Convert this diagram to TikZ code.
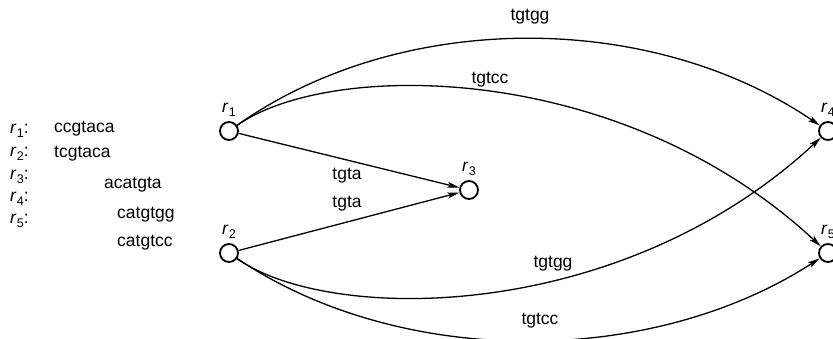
\documentclass[tikz,border=0pt]{standalone}
\usepackage{fontspec}
\setmainfont{Liberation Sans}
\usetikzlibrary{arrows.meta}
\newcommand\rsub[1]{\textit{r}\kern0.3pt\raisebox{-0.45ex}{\fontsize{12.5}{12.5}\selectfont #1}}
\begin{document}
\begin{tikzpicture}[x=1pt,y=-1pt,
  txt/.style={font=\fontsize{17.5}{20}\selectfont, inner sep=0pt},
  vtx/.style={circle,draw,line width=1.8pt,minimum size=18pt,inner sep=0pt},
  vlab/.style={txt,label distance=4pt},
  edge/.style={line width=1.3pt,-{Stealth[length=12pt,width=6pt,inset=2.5pt]}}]
\useasboundingbox (0,0) rectangle (833,338);
\clip (0,0) rectangle (833,338);
% left list
\node[txt,anchor=west] (l1) at (10,131) {\rsub{1}:};
\node[txt,anchor=west] (l2) at (10,154) {\rsub{2}:};
\node[txt,anchor=west] (l3) at (10,177) {\rsub{3}:};
\node[txt,anchor=west] (l4) at (10,199) {\rsub{4}:};
\node[txt,anchor=west] (l5) at (10,221) {\rsub{5}:};
\node[txt,anchor=west] (s1) at (54,129) {ccgtaca};
\node[txt,anchor=west] (s2) at (54,154) {tcgtaca};
\node[txt,anchor=west] (s3) at (104,185) {acatgta};
\node[txt,anchor=west] (s4) at (117,215) {catgtgg};
\node[txt,anchor=west] (s5) at (117,243) {catgtcc};
% vertices
\node[vtx,label={[vlab]above:\rsub{1}}] (r1) at (229,131) {};
\node[vtx,label={[vlab]above:\rsub{2}}] (r2) at (229,253) {};
\node[vtx,label={[vlab]above:\rsub{3}}] (r3) at (469,190) {};
\node[vtx,label={[vlab]above:\rsub{4}}] (r4) at (828,131) {};
\node[vtx,label={[vlab]above:\rsub{5}}] (r5) at (828,253) {};
% edges
\draw[edge] (r1) .. controls (400,10) and (650,10) .. (r4);
\draw[edge] (r1) .. controls (330,60) and (620,60) .. (r5);
\draw[edge] (r1) -- (r3);
\draw[edge] (r2) -- (r3);
\draw[edge] (r2) .. controls (330,324) and (620,324) .. (r4);
\draw[edge] (r2) .. controls (400,368) and (650,368) .. (r5);
% edge labels
\node[txt] (e1) at (530,17) {tgtgg};
\node[txt] (e2) at (490,80) {tgtcc};
\node[txt] (e3) at (347,176) {tgta};
\node[txt] (e4) at (347,204) {tgta};
\node[txt] (e5) at (553,264) {tgtgg};
\node[txt] (e6) at (540,321) {tgtcc};
\end{tikzpicture}
\end{document}
